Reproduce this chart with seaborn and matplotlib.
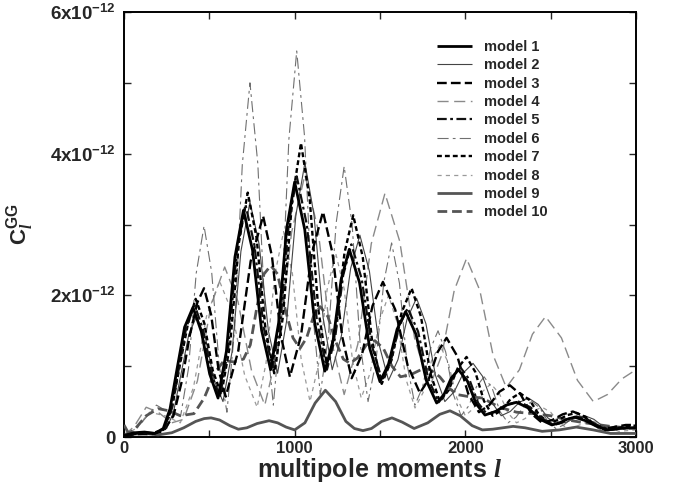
import matplotlib
matplotlib.use("Agg")
import matplotlib.pyplot as plt
import seaborn as sns
import pandas as pd
from matplotlib.ticker import MultipleLocator

# ---- data (C_l in units of 1e-12) ----
l1 = [0,60,120,180,230,270,310,355,404,453,502,551,600,650,700,753,806,859,906,953,1000,1059,1118,1177,1225,1272,1320,1380,1440,1500,1550,1600,1650,1711,1771,1832,1875,1917,1960,2012,2063,2115,2177,2238,2300,2369,2438,2507,2551,2596,2640,2705,2770,2835,2900,2980,3000]
c1 = [0.02,0.06,0.07,0.05,0.12,0.4,0.95,1.55,1.83,1.49,0.89,0.55,1.21,2.54,3.2,2.64,1.51,0.95,1.61,2.94,3.6,2.93,1.6,0.93,1.36,2.22,2.65,2.18,1.25,0.78,1.03,1.52,1.77,1.45,0.8,0.48,0.6,0.83,0.95,0.79,0.47,0.31,0.36,0.45,0.49,0.41,0.25,0.17,0.2,0.25,0.28,0.23,0.15,0.1,0.12,0.13,0.13]

l2 = [0,70,140,200,250,290,335,380,425,477,528,580,633,685,738,792,846,900,953,1007,1060,1113,1167,1220,1274,1328,1382,1438,1494,1550,1605,1659,1714,1769,1825,1880,1935,1990,2045,2100,2155,2210,2263,2317,2370,2427,2483,2540,2593,2647,2700,2753,2807,2860,2930,3000]
c2 = [0.02,0.05,0.07,0.06,0.12,0.35,0.9,1.45,1.7,1.4,0.8,0.5,1.2,2.62,3.32,2.72,1.5,0.9,1.64,3.13,3.87,3.14,1.68,0.95,1.43,2.38,2.85,2.34,1.31,0.8,1.09,1.67,1.96,1.6,0.87,0.5,0.64,0.91,1.04,0.86,0.49,0.3,0.36,0.49,0.55,0.46,0.27,0.18,0.21,0.27,0.3,0.25,0.15,0.1,0.12,0.12]

l3 = [0,80,160,230,290,340,385,430,469,511,554,596,669,742,815,867,920,972,1037,1101,1166,1222,1278,1334,1395,1456,1517,1589,1662,1734,1786,1838,1890,1953,2017,2080,2140,2200,2261,2324,2387,2450,2510,2570,2630,2690,2750,2810,2870,2940,3000]
c3 = [0.02,0.04,0.04,0.08,0.3,0.8,1.43,1.9,2.1,1.72,0.95,0.57,1.21,2.48,3.12,2.55,1.42,0.85,1.43,2.6,3.18,2.59,1.42,0.83,1.17,1.85,2.19,1.8,1.01,0.62,0.82,1.2,1.4,1.14,0.61,0.35,0.45,0.64,0.73,0.6,0.33,0.2,0.24,0.32,0.36,0.3,0.18,0.12,0.14,0.17,0.17]

l4 = [0,60,130,200,280,350,430,510,590,668,747,825,903,982,1060,1137,1213,1290,1370,1449,1529,1616,1703,1790,1862,1935,2007,2085,2162,2240,2317,2393,2470,2563,2657,2750,2833,2917,3000]
c4 = [0.02,0.15,0.42,0.35,0.2,0.25,0.79,1.86,2.4,1.91,0.94,0.45,1.26,2.89,3.7,2.93,1.38,0.6,1.31,2.73,3.44,2.76,1.39,0.7,1.16,2.07,2.52,2.07,1.16,0.7,0.95,1.45,1.7,1.4,0.8,0.5,0.6,0.82,0.95]

l5 = [0,60,120,180,240,280,320,365,414,463,512,561,610,660,712,765,818,871,918,965,1012,1071,1130,1189,1237,1284,1332,1392,1452,1512,1562,1612,1662,1723,1783,1844,1887,1929,1972,2024,2075,2127,2189,2250,2312,2381,2450,2519,2563,2608,2652,2717,2782,2847,2920,3000]
c5 = [0.02,0.05,0.06,0.05,0.12,0.4,0.95,1.55,1.86,1.52,0.9,0.56,1.24,2.6,3.28,2.7,1.55,0.98,1.66,3.0,3.68,3.0,1.65,0.95,1.4,2.28,2.72,2.24,1.29,0.8,1.06,1.56,1.82,1.49,0.82,0.49,0.62,0.86,0.98,0.81,0.48,0.32,0.37,0.46,0.5,0.42,0.26,0.17,0.2,0.26,0.29,0.24,0.16,0.1,0.12,0.13]

l6 = [0,60,120,190,260,332,378,423,469,514,558,603,648,693,738,784,829,875,921,966,1012,1058,1104,1150,1197,1243,1290,1337,1383,1430,1476,1522,1568,1614,1659,1705,1750,1795,1840,1885,1930,1975,2020,2065,2110,2157,2203,2250,2297,2343,2390,2437,2483,2530,2577,2623,2670,2717,2763,2810,2880,2950,3000]
c6 = [0.02,0.08,0.25,0.45,0.35,0.3,0.97,2.31,2.98,2.32,1.01,0.35,1.51,3.84,5.0,3.86,1.59,0.45,1.7,4.2,5.45,4.24,1.81,0.6,1.41,3.02,3.82,2.99,1.33,0.5,1.06,2.18,2.74,2.17,1.02,0.45,0.71,1.24,1.5,1.2,0.6,0.3,0.44,0.71,0.85,0.69,0.36,0.2,0.28,0.43,0.5,0.41,0.22,0.12,0.17,0.26,0.3,0.25,0.14,0.08,0.12,0.15,0.14]

l7 = [0,80,160,230,280,330,375,420,470,520,570,622,673,725,777,828,880,932,985,1037,1088,1139,1190,1241,1292,1343,1399,1454,1510,1568,1627,1685,1740,1795,1850,1902,1955,2007,2058,2109,2160,2213,2267,2320,2377,2433,2490,2544,2598,2652,2708,2764,2820,2900,2980,3000]
c7 = [0.02,0.05,0.05,0.1,0.4,1.05,1.6,1.95,1.61,0.94,0.6,1.31,2.74,3.45,2.81,1.54,0.9,1.71,3.34,4.15,3.36,1.79,1.0,1.53,2.6,3.13,2.54,1.35,0.75,1.09,1.76,2.1,1.7,0.9,0.5,0.66,0.97,1.13,0.92,0.51,0.3,0.38,0.54,0.62,0.52,0.31,0.2,0.24,0.31,0.34,0.28,0.16,0.1,0.13,0.16,0.16]

l8 = [0,70,150,240,330,407,483,560,633,707,780,832,883,935,987,1038,1090,1140,1190,1240,1290,1340,1390,1443,1497,1550,1602,1653,1705,1753,1802,1850,1900,1950,2000,2050,2100,2150,2200,2250,2300,2350,2400,2450,2500,2550,2600,2650,2700,2750,2830,2900,3000]
c8 = [0.02,0.12,0.35,0.3,0.2,0.7,1.7,2.2,1.76,0.87,0.42,1.04,2.28,2.9,2.3,1.1,0.5,1.03,2.08,2.6,2.09,1.06,0.55,0.91,1.64,2.0,1.6,0.81,0.41,0.63,1.08,1.3,1.05,0.55,0.3,0.41,0.64,0.75,0.61,0.34,0.2,0.26,0.37,0.42,0.35,0.2,0.12,0.15,0.2,0.22,0.14,0.08,0.1]

l9 = [0,25,60,120,200,280,350,420,470,510,560,620,670,720,780,850,900,950,1000,1060,1120,1180,1240,1300,1350,1400,1450,1510,1570,1630,1700,1780,1850,1910,1970,2040,2100,2160,2220,2280,2350,2450,2550,2650,2750,2850,3000]
c9 = [0.17,0.06,0.04,0.05,0.03,0.06,0.13,0.22,0.26,0.27,0.24,0.16,0.11,0.13,0.19,0.23,0.2,0.14,0.1,0.2,0.48,0.66,0.5,0.22,0.12,0.09,0.12,0.22,0.27,0.21,0.12,0.2,0.32,0.37,0.3,0.16,0.1,0.11,0.13,0.15,0.13,0.08,0.1,0.14,0.1,0.05,0.05]

l10 = [0,60,130,200,264,330,410,470,530,586,644,700,740,780,820,860,900,945,990,1031,1070,1110,1150,1195,1240,1285,1324,1370,1420,1470,1520,1570,1620,1680,1740,1790,1850,1900,1950,2020,2100,2200,2300,2400,2500,2600,2700,2850,3000]
c10 = [0.02,0.1,0.3,0.4,0.37,0.3,0.33,0.55,0.9,1.08,1.06,1.1,1.3,1.85,2.3,2.42,2.3,1.8,1.4,1.25,1.4,1.7,1.84,1.7,1.35,1.1,1.04,1.12,1.3,1.36,1.25,1.0,0.85,0.88,0.95,0.96,0.85,0.7,0.6,0.57,0.55,0.42,0.35,0.33,0.3,0.24,0.2,0.15,0.12]

labels = [f"model {i}" for i in range(1, 11)]
ells = [l1, l2, l3, l4, l5, l6, l7, l8, l9, l10]
cls = [c1, c2, c3, c4, c5, c6, c7, c8, c9, c10]

xticks = [0, 1000, 2000, 3000]
yticks = [0, 2e-12, 4e-12, 6e-12]
yticklabels = ["0", r"2x10$^{\mathregular{-12}}$", r"4x10$^{\mathregular{-12}}$", r"6x10$^{\mathregular{-12}}$"]

# ---- styles ----
styles = {
    "model 1":  dict(color="#000000", lw=2.0, dashes=None, z=10),
    "model 2":  dict(color="#444444", lw=0.8, dashes=None, z=5),
    "model 3":  dict(color="#000000", lw=1.7, dashes=(7, 3), z=8),
    "model 4":  dict(color="#8a8a8a", lw=1.0, dashes=(8, 4), z=2),
    "model 5":  dict(color="#111111", lw=1.6, dashes=(7, 2.5, 2, 2.5), z=9),
    "model 6":  dict(color="#707070", lw=0.8, dashes=(8, 3, 2, 3), z=3),
    "model 7":  dict(color="#000000", lw=1.7, dashes=(3.5, 2.2), z=7),
    "model 8":  dict(color="#9a9a9a", lw=0.9, dashes=(3, 3), z=1),
    "model 9":  dict(color="#555555", lw=2.0, dashes=None, z=6),
    "model 10": dict(color="#555555", lw=2.0, dashes=(7, 3.5), z=4),
}

sns.set_style("ticks")
plt.rcParams["font.family"] = ["Liberation Sans", "DejaVu Sans"]
plt.rcParams["font.weight"] = "bold"
plt.rcParams["mathtext.fontset"] = "custom"
plt.rcParams["mathtext.rm"] = "Liberation Sans:bold"
plt.rcParams["mathtext.bf"] = "Liberation Sans:bold"
plt.rcParams["mathtext.it"] = "Liberation Serif:bold:italic"
plt.rcParams["mathtext.default"] = "rm"
plt.rcParams["lines.scale_dashes"] = False

fig = plt.figure(figsize=(6.81, 4.91), dpi=100)
ax = fig.add_axes([124/681, 1-437/491, 512/681, 425/491])

handles = []
for lab, lx, cy in zip(labels, ells, cls):
    st = styles[lab]
    df = pd.DataFrame({"l": lx, "C": [v * 1e-12 for v in cy]})
    sns.lineplot(data=df, x="l", y="C", ax=ax, color=st["color"], linewidth=st["lw"],
                 estimator=None, sort=False, zorder=st["z"], label=lab)
    line = ax.get_lines()[-1]
    if st["dashes"] is not None:
        line.set_dashes(st["dashes"])
    line.set_solid_capstyle("butt")
    line.set_dash_capstyle("butt")
    line.set_solid_joinstyle("round")
    line.set_dash_joinstyle("round")
    handles.append(line)

ax.set_xlim(0, 3000)
ax.set_ylim(0, 6e-12)
ax.set_xticks(xticks)
ax.set_xticklabels([str(t) for t in xticks], fontsize=12, fontweight="bold")
ax.xaxis.set_minor_locator(MultipleLocator(500))
ax.set_yticks(yticks)
ax.set_yticklabels(yticklabels, fontsize=13.5, fontweight="bold")
ax.yaxis.set_minor_locator(MultipleLocator(1e-12))
ax.tick_params(which="both", direction="in", top=True, right=True, length=5, width=1)
ax.tick_params(axis="x", pad=3)
ax.tick_params(axis="y", pad=6)
for sp in ax.spines.values():
    sp.set_linewidth(1.4)
    sp.set_color("black")

ax.set_xlabel(r"multipole moments $\mathit{l}$", fontsize=18, fontweight="bold", labelpad=0)
ax.set_ylabel(r"C$_{\mathit{l}}^{\mathregular{GG}}$", fontsize=16, fontweight="bold", labelpad=10)

leg = ax.legend(handles=handles, labels=labels, loc="upper left",
                bbox_to_anchor=((437-124)/512, (437-40)/425), frameon=False,
                prop={"weight": "bold", "size": 10.5}, handlelength=2.4,
                handletextpad=0.8, labelspacing=0.3, borderpad=0, borderaxespad=0)

fig.savefig("out.png", dpi=100)
